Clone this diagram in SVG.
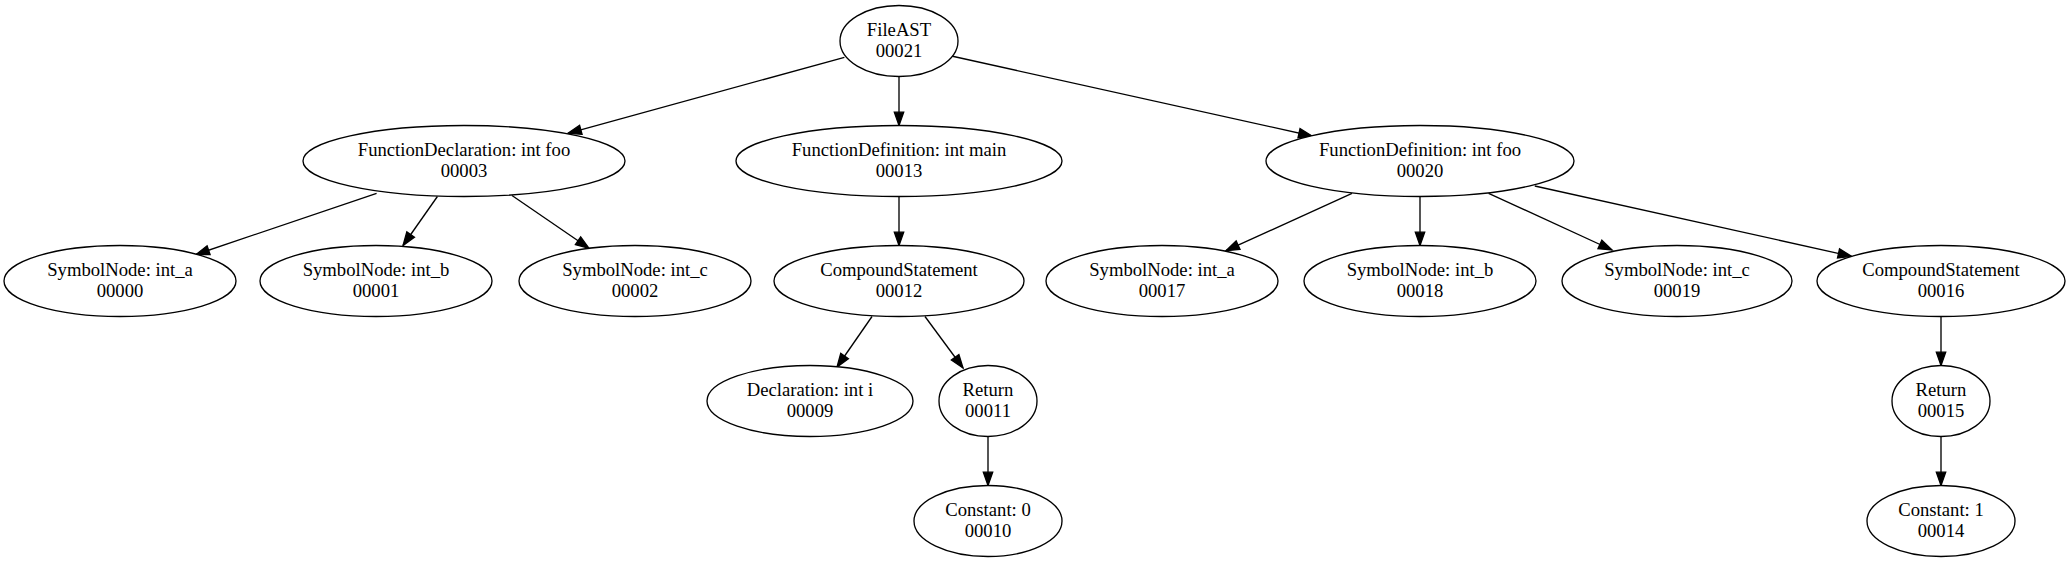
<svg xmlns="http://www.w3.org/2000/svg" width="2071" height="563" viewBox="0 0 2071 563">
<style>
.node ellipse{fill:#ffffff;stroke:#000000;stroke-width:1.33}
.node text{font-family:"Liberation Serif","Times New Roman",serif;font-size:18.67px;fill:#000000;text-anchor:middle}
.edges line{stroke:#000000;stroke-width:1.33;fill:none;marker-end:url(#arrow)}
</style>
<defs>
<marker id="arrow" markerUnits="userSpaceOnUse" viewBox="0 0 14 10" markerWidth="14" markerHeight="10" refX="13.3" refY="5" orient="auto" overflow="visible">
<path d="M0,0.33 L13.3,5 L0,9.67 z" fill="#000000" stroke="#000000" stroke-width="1.33"/>
</marker>
</defs>
<rect width="2071" height="563" fill="#ffffff"/>
<g id="edges" class="edges">
<line x1="844.4" y1="57.3" x2="568" y2="133.3"/>
<line x1="899" y1="76.5" x2="899" y2="125.5"/>
<line x1="951.4" y1="56" x2="1312" y2="136"/>
<line x1="376.6" y1="193.3" x2="196" y2="254.5"/>
<line x1="437.4" y1="196.5" x2="403" y2="245.5"/>
<line x1="512" y1="195.5" x2="589" y2="248.3"/>
<line x1="899" y1="196.5" x2="899" y2="245.5"/>
<line x1="872" y1="316.5" x2="837" y2="367"/>
<line x1="925" y1="316.5" x2="963" y2="368"/>
<line x1="988" y1="436.5" x2="988" y2="485.5"/>
<line x1="1352" y1="193.3" x2="1226" y2="250.7"/>
<line x1="1420" y1="196.5" x2="1420" y2="245.5"/>
<line x1="1488.6" y1="193.3" x2="1612" y2="250"/>
<line x1="1534.8" y1="186" x2="1851.5" y2="256.3"/>
<line x1="1941" y1="316.5" x2="1941" y2="365.5"/>
<line x1="1941" y1="436.5" x2="1941" y2="485.5"/>
</g>
<g id="n00021" class="node"><ellipse cx="899" cy="41" rx="59" ry="35.5"/><text x="899" y="36">FileAST</text><text x="899" y="57">00021</text></g>
<g id="n00003" class="node"><ellipse cx="464" cy="161" rx="161" ry="35.5"/><text x="464" y="156">FunctionDeclaration: int foo</text><text x="464" y="177">00003</text></g>
<g id="n00013" class="node"><ellipse cx="899" cy="161" rx="163" ry="35.5"/><text x="899" y="156">FunctionDefinition: int main</text><text x="899" y="177">00013</text></g>
<g id="n00020" class="node"><ellipse cx="1420" cy="161" rx="154" ry="35.5"/><text x="1420" y="156">FunctionDefinition: int foo</text><text x="1420" y="177">00020</text></g>
<g id="n00000" class="node"><ellipse cx="120" cy="281" rx="116" ry="35.5"/><text x="120" y="276">SymbolNode: int_a</text><text x="120" y="297">00000</text></g>
<g id="n00001" class="node"><ellipse cx="376" cy="281" rx="116" ry="35.5"/><text x="376" y="276">SymbolNode: int_b</text><text x="376" y="297">00001</text></g>
<g id="n00002" class="node"><ellipse cx="635" cy="281" rx="116" ry="35.5"/><text x="635" y="276">SymbolNode: int_c</text><text x="635" y="297">00002</text></g>
<g id="n00012" class="node"><ellipse cx="899" cy="281" rx="125" ry="35.5"/><text x="899" y="276">CompoundStatement</text><text x="899" y="297">00012</text></g>
<g id="n00017" class="node"><ellipse cx="1162" cy="281" rx="116" ry="35.5"/><text x="1162" y="276">SymbolNode: int_a</text><text x="1162" y="297">00017</text></g>
<g id="n00018" class="node"><ellipse cx="1420" cy="281" rx="116" ry="35.5"/><text x="1420" y="276">SymbolNode: int_b</text><text x="1420" y="297">00018</text></g>
<g id="n00019" class="node"><ellipse cx="1677" cy="281" rx="115" ry="35.5"/><text x="1677" y="276">SymbolNode: int_c</text><text x="1677" y="297">00019</text></g>
<g id="n00016" class="node"><ellipse cx="1941" cy="281" rx="124" ry="35.5"/><text x="1941" y="276">CompoundStatement</text><text x="1941" y="297">00016</text></g>
<g id="n00009" class="node"><ellipse cx="810" cy="401" rx="103" ry="35.5"/><text x="810" y="396">Declaration: int i</text><text x="810" y="417">00009</text></g>
<g id="n00011" class="node"><ellipse cx="988" cy="401" rx="49" ry="35.5"/><text x="988" y="396">Return</text><text x="988" y="417">00011</text></g>
<g id="n00015" class="node"><ellipse cx="1941" cy="401" rx="49" ry="35.5"/><text x="1941" y="396">Return</text><text x="1941" y="417">00015</text></g>
<g id="n00010" class="node"><ellipse cx="988" cy="521" rx="74" ry="35.5"/><text x="988" y="516">Constant: 0</text><text x="988" y="537">00010</text></g>
<g id="n00014" class="node"><ellipse cx="1941" cy="521" rx="74" ry="35.5"/><text x="1941" y="516">Constant: 1</text><text x="1941" y="537">00014</text></g>
</svg>
